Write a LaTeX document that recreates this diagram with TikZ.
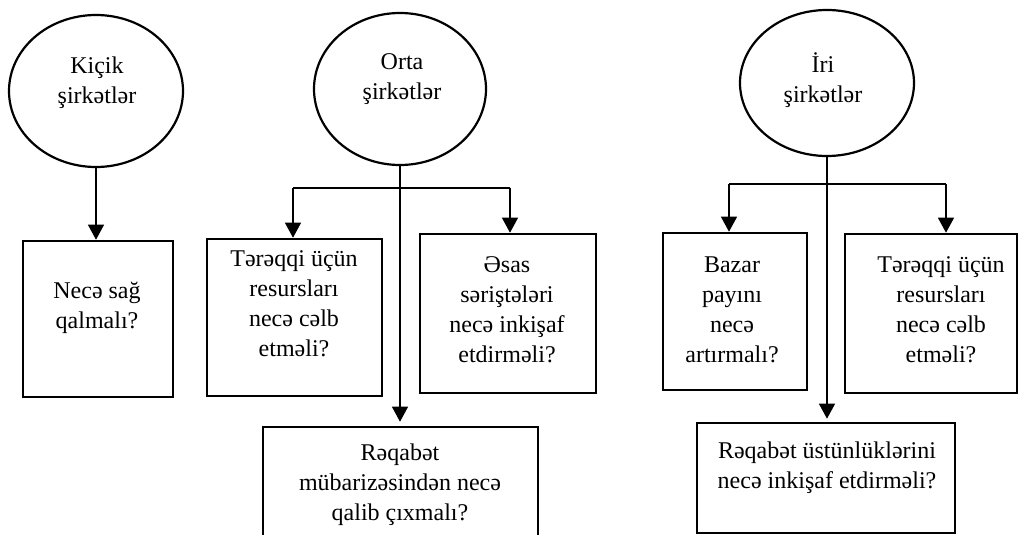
\documentclass[tikz,border=0pt]{standalone}
\usepackage{fontspec}
\setmainfont{Liberation Serif}
\usetikzlibrary{shapes.geometric,arrows.meta}

\begin{document}
\begin{tikzpicture}[x=1pt,y=-1pt,
  oval/.style={ellipse, draw, line width=2.2pt, inner sep=0pt},
  qbox/.style={rectangle, draw, line width=2.6pt, inner sep=0pt},
  txt/.style={align=center, font=\fontsize{24}{30}\selectfont, inner sep=0pt},
  link/.style={line width=1.2pt},
  arr/.style={link, -{Triangle[width=16pt,length=15pt]}}]
\useasboundingbox (0,0) rectangle (1018,535);
\clip (0,0) rectangle (1018,535);

% company groups
\node[oval, minimum width=174pt, minimum height=152pt] (e1) at (96,91) {};
\node[oval, minimum width=172pt, minimum height=152pt] (e2) at (400,89) {};
\node[oval, minimum width=174pt, minimum height=146pt] (e3) at (827,83) {};
\node[txt] (t1) at (97,83) {Kiçik\\şirkətlər};
\node[txt] (t2) at (402,79) {Orta\\şirkətlər};
\node[txt] (t3) at (823,80) {İri\\şirkətlər};

% question boxes
\node[qbox, minimum width=150pt, minimum height=156pt] (b1) at (98,319) {};
\node[qbox, minimum width=175pt, minimum height=157pt] (b2) at (294.5,317.5) {};
\node[qbox, minimum width=176pt, minimum height=159pt] (b3) at (508,313.5) {};
\node[qbox, minimum width=275pt, minimum height=133pt] (b4) at (400.5,493.5) {};
\node[qbox, minimum width=144pt, minimum height=157pt] (b5) at (735,311.5) {};
\node[qbox, minimum width=172pt, minimum height=159pt] (b6) at (931,313.5) {};
\node[qbox, minimum width=258pt, minimum height=110pt] (b7) at (826,478) {};

\node[txt] (q1) at (97,307.5) {Necə sağ\\qalmalı?};
\node[txt] (q2) at (294,304) {Tərəqqi üçün\\resursları\\necə cəlb\\etməli?};
\node[txt] (q3) at (507,309.5) {Əsas\\səriştələri\\necə inkişaf\\etdirməli?};
\node[txt] (q4) at (400,485) {Rəqabət\\mübarizəsindən necə\\qalib çıxmalı?};
\node[txt] (q5) at (732,310) {Bazar\\payını\\necə\\artırmalı?};
\node[txt] (q6) at (941,310) {Tərəqqi üçün\\resursları\\necə cəlb\\etməli?};
\node[txt] (q7) at (827,468) {Rəqabət üstünlüklərini\\necə inkişaf etdirməli?};

% small companies
\draw[arr] (e1.south) -- (e1.south |- b1.north);

% medium companies
\coordinate (l2) at (293,188);
\coordinate (r2) at (510,188);
\draw[link] (l2) -- (r2);
\draw[arr] (l2) -- (l2 |- b2.north);
\draw[arr] (r2) -- (r2 |- b3.north);
\draw[arr, shorten >=4pt] (e2.south) -- (e2.south |- b4.north);

% large companies
\coordinate (l3) at (729,184);
\coordinate (r3) at (946,184);
\draw[link] (l3) -- (r3);
\draw[arr] (l3) -- (l3 |- b5.north);
\draw[arr] (r3) -- (r3 |- b6.north);
\draw[arr, shorten >=3pt] (e3.south) -- (e3.south |- b7.north);
\end{tikzpicture}
\end{document}
